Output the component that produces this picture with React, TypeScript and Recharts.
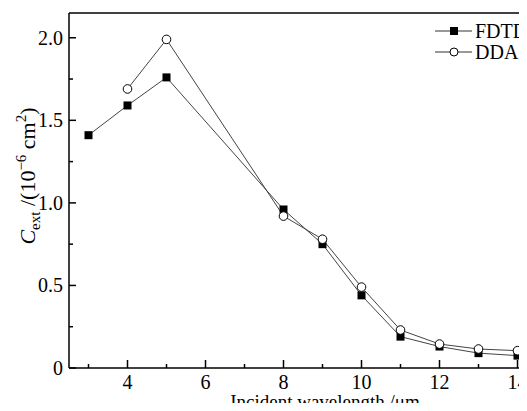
import React from 'react';
import {
    LineChart,
    Line,
    XAxis,
    YAxis,
    ReferenceLine
} from 'recharts';

const fdtdX = [3, 4, 5, 8, 9, 10, 11, 12, 13, 14];
const fdtdY = [1.41, 1.59, 1.76, 0.96, 0.75, 0.44, 0.19, 0.13, 0.09, 0.075];
const ddaX = [4, 5, 8, 9, 10, 11, 12, 13, 14];
const ddaY = [1.69, 1.99, 0.92, 0.78, 0.49, 0.23, 0.145, 0.115, 0.105];

const xTicks = [3, 4, 5, 6, 7, 8, 9, 10, 11, 12, 13, 14];
const xLabels = [4, 6, 8, 10, 12, 14];
const yTicks = [0, 0.25, 0.5, 0.75, 1, 1.25, 1.5, 1.75, 2];
const yLabels: Record<number, string> = { 0: '0', 0.5: '0.5', 1: '1.0', 1.5: '1.5', 2: '2.0' };

const FONT = '"Liberation Serif", serif';

const fdtdData = fdtdX.map((x, i) => ({ x, y: fdtdY[i] }));
const ddaData = ddaX.map((x, i) => ({ x, y: ddaY[i] }));

const Square = (props: any) => {
    const { cx, cy } = props;
    if (cx == null || cy == null) return null;
    return <rect x={cx - 4} y={cy - 4} width={8} height={8} fill="#000" />;
};

const Circle = (props: any) => {
    const { cx, cy } = props;
    if (cx == null || cy == null) return null;
    return <circle cx={cx} cy={cy} r={4.3} fill="#fff" stroke="#000" strokeWidth={1} />;
};

// ticks point inward, only even values get a label
const XTick = (props: any) => {
    const { x, y, payload } = props;
    const major = xLabels.includes(payload.value);
    return (
        <g>
            <line x1={x} x2={x} y1={y} y2={y - (major ? 8 : 4)} stroke="#000" strokeWidth={1.5} />
            {major && (
                <text x={x} y={y + 21} textAnchor="middle" fontFamily={FONT} fontSize={20} fill="#000">
                    {payload.value}
                </text>
            )}
        </g>
    );
};

const YTick = (props: any) => {
    const { x, y, payload } = props;
    const label = yLabels[payload.value];
    return (
        <g>
            <line x1={x} x2={x + (label ? 7 : 4)} y1={y} y2={y} stroke="#000" strokeWidth={1.5} />
            {label && (
                <text x={x - 6} y={y + 7} textAnchor="end" fontFamily={FONT} fontSize={20} fill="#000">
                    {label}
                </text>
            )}
        </g>
    );
};

const LegendBox = () => (
    <svg width={120} height={50} style={{ position: 'absolute', left: 435, top: 21 }}>
        <line x1={0} x2={37} y1={10} y2={10} stroke="#333" strokeWidth={1} />
        <rect x={15} y={6} width={8} height={8} fill="#000" />
        <text x={40} y={17} fontFamily={FONT} fontSize={20} fill="#000">FDTD</text>
        <line x1={0} x2={37} y1={31} y2={31} stroke="#333" strokeWidth={1} />
        <circle cx={19} cy={31} r={4} fill="#fff" stroke="#000" strokeWidth={1} />
        <text x={40} y={38} fontFamily={FONT} fontSize={20} fill="#000">DDA</text>
    </svg>
);

const YLabel = () => (
    <text
        transform="translate(35, 176) rotate(-90)"
        textAnchor="middle"
        fontFamily={FONT}
        fontSize={22}
        fill="#000"
    >
        <tspan fontStyle="italic">C</tspan>
        <tspan fontSize={15} dy={5}>ext</tspan>
        <tspan dy={-5}> /(10</tspan>
        <tspan fontSize={15} dy={-9}>−6</tspan>
        <tspan dy={9}> cm</tspan>
        <tspan fontSize={15} dy={-9}>2</tspan>
        <tspan dy={9}>)</tspan>
    </text>
);

const XLabel = () => (
    <text x={325} y={408} textAnchor="middle" fontFamily={FONT} fontSize={19} fill="#000">
        Incident wavelength /μm
    </text>
);

export default function App() {
    return (
        <div style={{ margin: -8, width: 527, height: 411, overflow: 'hidden', background: '#fff', position: 'relative' }}>
            <LineChart
                width={560}
                height={411}
                margin={{ top: 13, right: 23, bottom: 0, left: 0 }}
            >
                <XAxis
                    dataKey="x"
                    type="number"
                    domain={[2.5, 14.5]}
                    ticks={xTicks}
                    interval={0}
                    height={43}
                    tickSize={0}
                    tickMargin={0}
                    tick={<XTick />}
                    tickLine={false}
                    axisLine={{ stroke: '#000', strokeWidth: 1.5 }}
                    allowDuplicatedCategory={false}
                    label={<XLabel />}
                />
                <YAxis
                    dataKey="y"
                    type="number"
                    domain={[0, 2.15]}
                    ticks={yTicks}
                    interval={0}
                    width={69}
                    tickSize={0}
                    tickMargin={0}
                    tick={<YTick />}
                    tickLine={false}
                    axisLine={{ stroke: '#000', strokeWidth: 1.5 }}
                    label={<YLabel />}
                />
                <ReferenceLine y={2.15} stroke="#000" strokeWidth={1.5} />
                <ReferenceLine x={14.5} stroke="#000" strokeWidth={1.5} />
                <Line
                    data={fdtdData}
                    dataKey="y"
                    name="FDTD"
                    stroke="#444"
                    strokeWidth={1}
                    dot={<Square />}
                    activeDot={false}
                    isAnimationActive={false}
                />
                <Line
                    data={ddaData}
                    dataKey="y"
                    name="DDA"
                    stroke="#444"
                    strokeWidth={1}
                    dot={<Circle />}
                    activeDot={false}
                    isAnimationActive={false}
                />
            </LineChart>
            <LegendBox />
        </div>
    );
}
